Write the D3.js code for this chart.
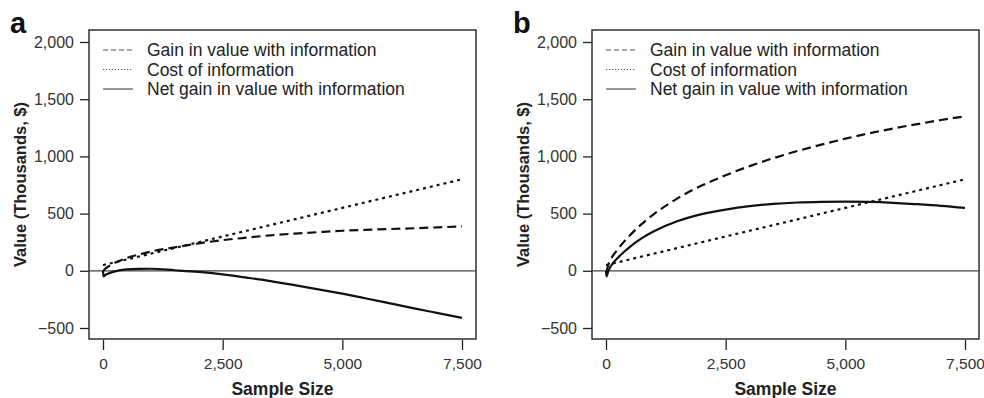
<!DOCTYPE html>
<html>
<head>
<meta charset="utf-8">
<script src="https://cdn.jsdelivr.net/npm/d3@7"></script>
<style>
  body { margin: 0; background: #fff; }
  svg text { font-family: "Liberation Sans", Arial, sans-serif; }
</style>
</head>
<body>
<svg id="chart" width="984" height="398"></svg>
<script>
// sample sizes shared by every series
var sampleSize = [0, 10, 50, 100, 250, 500, 750, 1000, 1500, 2000, 2500, 3000, 3500, 4000, 4500, 5000, 5500, 6000, 6500, 7000, 7500];

// panel a
var gainA = [0, 1, 20, 35, 70, 112, 142, 168, 205, 240, 268, 290, 310, 325, 338, 350, 358, 365, 372, 380, 388];
var costA = [50, 51, 55, 60, 75, 100, 125, 150, 200, 250, 300, 350, 400, 450, 500, 550, 600, 650, 700, 750, 800];
var netA  = [0, -50, -35, -25, -5, 12, 17, 18, 5, -10, -32, -60, -90, -125, -162, -200, -242, -285, -328, -370, -412];

// panel b
var gainB = [0, 1, 55, 100, 190, 310, 410, 495, 635, 745, 835, 915, 985, 1047, 1103, 1155, 1202, 1244, 1282, 1318, 1350];
var costB = [50, 51, 55, 60, 75, 100, 125, 150, 200, 250, 300, 350, 400, 450, 500, 550, 600, 650, 700, 750, 800];
var netB  = [0, -50, 0, 40, 115, 210, 285, 345, 435, 495, 535, 565, 585, 597, 603, 605, 602, 594, 582, 568, 550];

var xTicks = [0, 2500, 5000, 7500];
var yTicks = [-500, 0, 500, 1000, 1500, 2000];
var legendLabels = ["Gain in value with information", "Cost of information", "Net gain in value with information"];

var svg = d3.select("#chart");
var fmt = d3.format(",");

function panel(letter, left, gain, cost, net) {
  var frame = {x0: left, x1: left + 387, y0: 30, y1: 339};
  var x = d3.scaleLinear().domain([0, 7500]).range([left + 14, left + 373]);
  var y = d3.scaleLinear().domain([-500, 2000]).range([328, 42]);
  var g = svg.append("g");

  // panel letter
  g.append("text")
    .attr("x", left - 79)
    .attr("y", 33)
    .attr("font-size", 29)
    .attr("font-weight", "bold")
    .attr("fill", "#111")
    .text(letter);

  // y axis
  var yAx = g.append("g")
    .attr("transform", "translate(" + frame.x0 + ",0)")
    .call(d3.axisLeft(y).tickValues(yTicks).tickSize(9).tickPadding(6).tickFormat(fmt));
  yAx.select(".domain").remove();
  yAx.selectAll("line").attr("stroke", "#222").attr("stroke-width", 1.3);
  yAx.selectAll("text").attr("font-size", 16).attr("fill", "#333").attr("font-family", "Liberation Sans, Arial, sans-serif");

  // x axis
  var xAx = g.append("g")
    .attr("transform", "translate(0," + (frame.y1 + 1) + ")")
    .call(d3.axisBottom(x).tickValues(xTicks).tickSize(10).tickPadding(8).tickFormat(fmt));
  xAx.select(".domain").remove();
  xAx.selectAll("line").attr("stroke", "#222").attr("stroke-width", 1.3);
  xAx.selectAll("text").attr("font-size", 15.5).attr("fill", "#333").attr("font-family", "Liberation Sans, Arial, sans-serif");

  // frame
  g.append("rect")
    .attr("x", frame.x0)
    .attr("y", frame.y0)
    .attr("width", frame.x1 - frame.x0)
    .attr("height", frame.y1 - frame.y0)
    .attr("fill", "none")
    .attr("stroke", "#222")
    .attr("stroke-width", 1.4);

  // zero line
  g.append("line")
    .attr("x1", frame.x0).attr("x2", frame.x1)
    .attr("y1", y(0)).attr("y2", y(0))
    .attr("stroke", "#444")
    .attr("stroke-width", 1.2);

  // axis titles
  g.append("text")
    .attr("x", (frame.x0 + frame.x1) / 2)
    .attr("y", 395)
    .attr("text-anchor", "middle")
    .attr("font-size", 17.5)
    .attr("font-weight", "bold")
    .attr("fill", "#222")
    .text("Sample Size");

  g.append("text")
    .attr("transform", "translate(" + (left - 63) + "," + ((frame.y0 + frame.y1) / 2) + ") rotate(-90)")
    .attr("text-anchor", "middle")
    .attr("font-size", 16.5)
    .attr("font-weight", "bold")
    .attr("fill", "#222")
    .text("Value (Thousands, $)");

  // series
  var line = d3.line()
    .x(function(d) { return x(d[0]); })
    .y(function(d) { return y(d[1]); })
    .curve(d3.curveMonotoneX);

  var series = [
    {vals: gain, dash: "9,5"},
    {vals: cost, dash: "3,4"},
    {vals: net, dash: null}
  ];

  series.forEach(function(s) {
    g.append("path")
      .datum(d3.zip(sampleSize, s.vals))
      .attr("d", line)
      .attr("fill", "none")
      .attr("stroke", "#111")
      .attr("stroke-width", 2.2)
      .attr("stroke-dasharray", s.dash);
  });

  // legend
  var legDash = ["5,3", "1.2,1.8", null];
  legendLabels.forEach(function(lab, i) {
    var ly = 50 + i * 19.5;
    g.append("line")
      .attr("x1", left + 14).attr("x2", left + 44)
      .attr("y1", ly).attr("y2", ly)
      .attr("stroke", "#555")
      .attr("stroke-width", 1.2)
      .attr("stroke-dasharray", legDash[i]);
    g.append("text")
      .attr("x", left + 58)
      .attr("y", ly + 6)
      .attr("font-size", 17.5)
      .attr("fill", "#222")
      .text(lab);
  });
}

panel("a", 89, gainA, costA, netA);
panel("b", 592, gainB, costB, netB);
</script>
</body>
</html>
